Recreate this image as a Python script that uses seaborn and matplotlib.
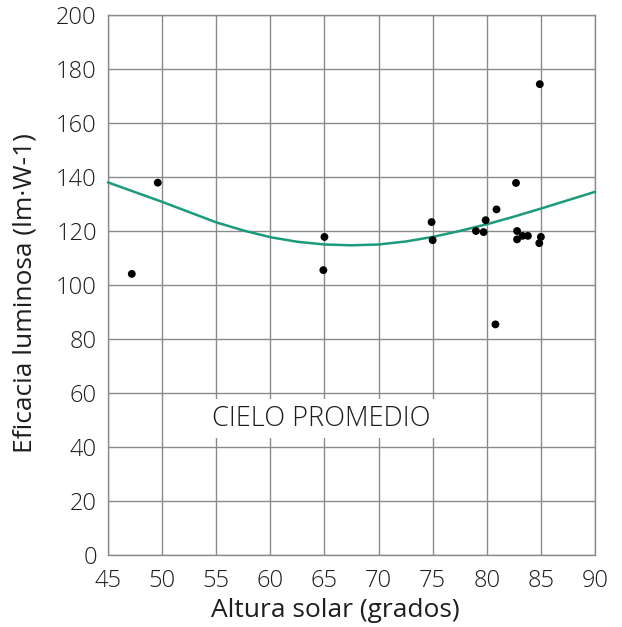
import matplotlib
matplotlib.use("Agg")
import matplotlib.pyplot as plt
import seaborn as sns
import pandas as pd

# Measured points
altura = [47.2, 49.6, 64.9, 65.0, 74.9, 75.0, 79.0, 79.7, 79.9, 80.9, 80.8,
          82.7, 82.8, 82.8, 83.3, 83.8, 84.85, 85.0, 84.9]
eficacia = [104.1, 137.9, 105.5, 117.8, 123.3, 116.6, 120.0, 119.6, 124.0, 128.0, 85.4,
            137.8, 120.0, 116.9, 118.2, 118.2, 115.5, 117.8, 174.4]

# Fitted curve
curva_x = [45, 47.5, 50, 52.5, 55, 57.5, 60, 62.5, 65, 67.5, 70, 72.5,
           75, 77.5, 80, 82.5, 85, 87.5, 90]
curva_y = [138.0, 134.4, 130.8, 127.0, 123.2, 120.2, 117.7, 116.0, 115.0, 114.7,
           115.0, 116.1, 117.8, 120.0, 122.5, 125.3, 128.3, 131.4, 134.5]

x_ticks = [45, 50, 55, 60, 65, 70, 75, 80, 85, 90]
y_ticks = [0, 20, 40, 60, 80, 100, 120, 140, 160, 180, 200]

sns.set_theme(style="white")
plt.rcParams['font.family'] = ['Open Sans', 'DejaVu Sans']
plt.rcParams['font.weight'] = 'light'
text_color = "#1e1e1e"

fig = plt.figure(figsize=(6.22, 6.27), dpi=100)
ax = fig.add_axes([0.1736, 0.115, 0.783, 0.861])

pts = pd.DataFrame({"x": altura, "y": eficacia})
cur = pd.DataFrame({"x": curva_x, "y": curva_y})

sns.lineplot(data=cur, x="x", y="y", ax=ax, color="#1b9a7c", linewidth=1.8,
             zorder=3, clip_on=False, sort=True)
sns.scatterplot(data=pts, x="x", y="y", ax=ax, color="black", s=32,
                edgecolor="none", zorder=4)

ax.set_xlim(45, 90)
ax.set_ylim(0, 200)
ax.set_xticks(x_ticks)
ax.set_yticks(y_ticks)
ax.grid(True, color="#8a8a8a", linewidth=1.0)
ax.set_axisbelow(True)
for s in ax.spines.values():
    s.set_visible(True)
    s.set_color("#8a8a8a")
    s.set_linewidth(1.0)
ax.tick_params(axis="both", length=0, labelsize=17, colors=text_color)
ax.tick_params(axis="x", pad=10)
ax.tick_params(axis="y", pad=8)

ax.set_xlabel("Altura solar (grados)", fontsize=19, color=text_color)
ax.set_ylabel("Eficacia luminosa (lm·W-1)", fontsize=19, color=text_color)
ax.xaxis.set_label_coords(0.466, -0.08)
ax.yaxis.set_label_coords(-0.145, 0.485)

ax.text(54.6, 50.5, "CIELO PROMEDIO", fontsize=19.5, color=text_color,
        ha="left", va="center", zorder=5,
        bbox=dict(boxstyle="square,pad=0.2", facecolor="white", edgecolor="none"))

fig.savefig("out.png", dpi=100)
